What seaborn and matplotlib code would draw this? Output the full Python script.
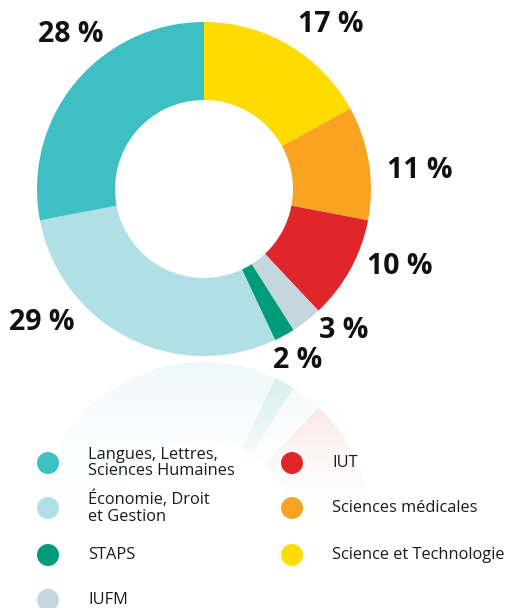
import numpy as np
import matplotlib.pyplot as plt
import seaborn as sns

sns.set_theme(style="white")
plt.rcParams['font.family'] = ['Open Sans', 'DejaVu Sans']

# Slices in clockwise order from 12 o'clock
categories = ['Science et Technologie', 'Sciences médicales', 'IUT', 'IUFM',
              'STAPS', 'Économie, Droit\net Gestion', 'Langues, Lettres,\nSciences Humaines']
shares = [17, 11, 10, 3, 2, 29, 28]
colors = ['#ffdc00', '#f8a322', '#e0262a', '#c4d6de', '#009c7a', '#b0dfe5', '#3dbfc4']

# label positions (pixels) for the percentages
label_pos = [(331, 24), (420, 170), (400, 266), (344, 331), (298, 360), (42, 322), (71, 34)]

# legend layout: (category index, x, y)
legend_order = [(6, 48, 463), (5, 48, 508), (4, 48, 555), (3, 48, 600),
                (2, 292, 463), (1, 292, 508), (0, 292, 555)]

fig = plt.figure(figsize=(5.11, 6.08), dpi=100)
ax = fig.add_axes([0, 0, 1, 1])

center = (204, 189)
R, r = 167, 89
mirror_y = 359

# main donut (y axis inverted later, so counterclock in data = clockwise on screen)
ax.pie(shares, colors=colors, startangle=-90, counterclock=True,
       center=center, radius=R, frame=True,
       wedgeprops=dict(width=R - r, linewidth=0))

# reflection
ax.pie(shares, colors=colors, startangle=90, counterclock=False,
       center=(center[0], 2 * mirror_y - center[1]), radius=R, frame=True,
       wedgeprops=dict(width=R - r, linewidth=0, zorder=1))

# white fade over the reflection
t = np.linspace(0, 1, 300)
fade = 1 - 0.2 * np.clip(1 - t * 249 / 160, 0, 1) ** 1.8
mask = np.ones((300, 2, 4))
mask[:, :, 3] = fade[:, None]
ax.imshow(mask, extent=(0, 511, 608, mirror_y), aspect='auto', zorder=3,
          interpolation='bilinear')

for (x, y), v in zip(label_pos, shares):
    ax.text(x, y, f'{v} %', fontsize=20.5, fontweight='bold', color='#111111',
            ha='center', va='center', zorder=5)

# legend
lx = [p[1] for p in legend_order]
ly = [p[2] for p in legend_order]
lc = [colors[p[0]] for p in legend_order]
sns.scatterplot(x=lx, y=ly, hue=list(range(len(lx))), palette=lc, s=250,
                linewidth=0, legend=False, ax=ax, zorder=6)
for i, x, y in legend_order:
    ax.text(x + 40, y, categories[i], fontsize=11.8, color='#1a1a1a',
            ha='left', va='center', linespacing=1.05, zorder=6)

ax.set_xlim(0, 511)
ax.set_ylim(608, 0)
ax.set_aspect('auto')
ax.axis('off')

fig.savefig('out.png', dpi=100)
